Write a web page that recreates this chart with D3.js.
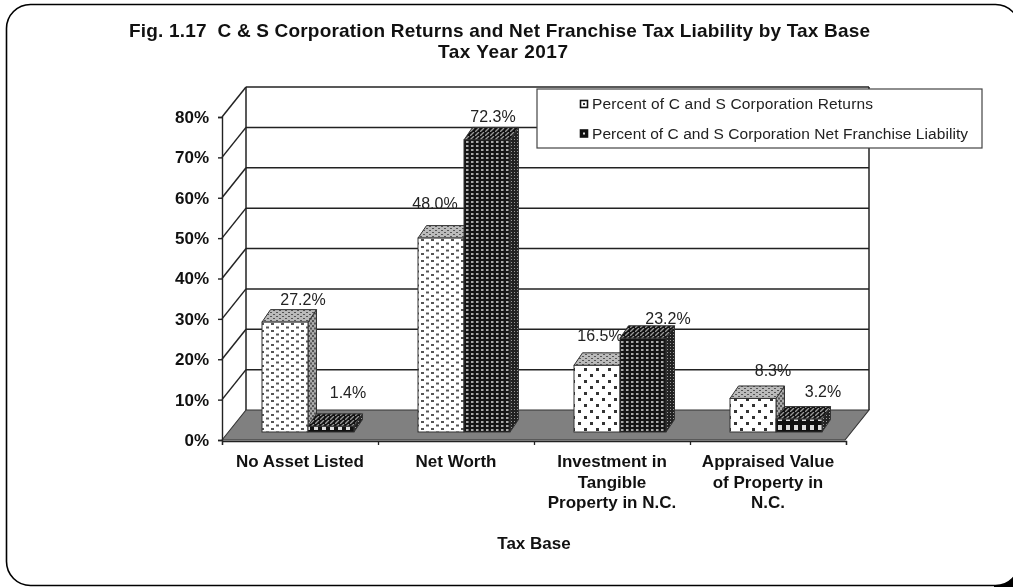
<!DOCTYPE html>
<html><head><meta charset="utf-8">
<script src="https://cdnjs.cloudflare.com/ajax/libs/d3/7.8.5/d3.min.js"></script>
<style>
html,body{margin:0;padding:0;background:#fff}
svg{display:block;font-family:"Liberation Sans",Arial,sans-serif;filter:blur(0.4px)}
</style></head><body><svg id="c" width="1013" height="587"></svg>
<script>
const titleLines = ["Fig. 1.17  C & S Corporation Returns and Net Franchise Tax Liability by Tax Base","Tax Year 2017"];
const categories = ["No Asset Listed","Net Worth","Investment in Tangible Property in N.C.","Appraised Value of Property in N.C."];
const categoryLines = [["No Asset Listed"],["Net Worth"],["Investment in","Tangible","Property in N.C."],["Appraised Value","of Property in","N.C."]];
const seriesNames = ["Percent of C and S Corporation Returns","Percent of C and S Corporation Net Franchise Liability"];
const returnsPct = [27.2,48.0,16.5,8.3];
const liabilityPct = [1.4,72.3,23.2,3.2];
const yTicks = [0,10,20,30,40,50,60,70,80];
const axisTitle = "Tax Base";
// hand-placed label nudges (dx,dy) relative to each bar's top centre
const returnsLabelNudge = [[18,-23],[-6,-35],[3,-30],[20,-28.5]];
const liabilityLabelNudge = [[17,-34],[6,-24],[25,-20],[24,-28]];

const svg = d3.select("#c");
const defs = svg.append("defs");
function pat(id,w,h,bg,draw){
  const p = defs.append("pattern").attr("id",id).attr("patternUnits","userSpaceOnUse").attr("width",w).attr("height",h);
  p.append("rect").attr("width",w).attr("height",h).attr("fill",bg);
  draw(p);
}
const sq=(p,x,y,w,h,c)=>p.append("rect").attr("x",x).attr("y",y).attr("width",w).attr("height",h).attr("fill",c);
pat("lightFine",10,7,"#fff",p=>{sq(p,1,1,3,2,"#555");sq(p,6,4.5,3,2,"#555");});
pat("lightCoarse",12,12,"#fff",p=>{sq(p,2,2,3,3,"#333");sq(p,8,8,3,3,"#333");});
pat("lightTop",6,4,"#bbb",p=>{sq(p,0,0,2,1,"#555");sq(p,3,2,2,1,"#555");});
pat("lightSide",4,5,"#aaa",p=>{sq(p,0,0,2,2,"#555");sq(p,2,2.5,2,2,"#555");});
pat("darkFine",5,4,"#151515",p=>{sq(p,1,1,2.5,2,"#aaa");});
pat("darkWide",8,9,"#111",p=>{sq(p,2,2,4,5,"#ddd");});
pat("darkTop",5,4,"#111",p=>{p.append("path").attr("d","M0 4L4 0").attr("stroke","#999").attr("stroke-width",1.3);});
pat("darkSide",3,3,"#222",p=>{sq(p,1,1,1,1,"#999");});

const n = categories.length;
const frontLeft=222, frontRight=846, depthX=24;
const x0 = d3.scaleBand().domain(categories).range([frontLeft,frontRight]);
const x1 = d3.scaleBand().domain([0,1]).range([40,132]);
const yMax = 80;
const yFront = d3.scaleLinear().domain([0,yMax]).range([440,117]);
const yWall  = d3.scaleLinear().domain([0,yMax]).range([410,87]);
const yBar   = d3.scaleLinear().domain([0,yMax]).range([432,108.8]);

// dark corner outside the frame, then the outer frame
svg.append("rect").attr("x",994).attr("y",562).attr("width",19).attr("height",25).attr("fill","#000");
svg.append("rect").attr("x",6.5).attr("y",4.5).attr("width",1013).attr("height",581).attr("rx",24)
  .attr("fill","#fff").attr("stroke","#000").attr("stroke-width",1.6);

// walls
const wall = svg.append("g").attr("stroke","#222").attr("stroke-width",1.5).attr("fill","none");
wall.selectAll("line.g").data(yTicks.slice(1)).join("line").attr("class","g")
  .attr("x1",frontLeft+depthX).attr("x2",frontRight+depthX-1).attr("y1",d=>yWall(d)).attr("y2",d=>yWall(d));
wall.selectAll("line.d").data(yTicks.slice(1)).join("line").attr("class","d")
  .attr("x1",frontLeft).attr("x2",frontLeft+depthX).attr("y1",d=>yFront(d)).attr("y2",d=>yWall(d));
wall.append("line").attr("x1",frontLeft+depthX).attr("x2",frontLeft+depthX).attr("y1",yWall(0)).attr("y2",yWall(yMax));
wall.append("line").attr("x1",frontRight+depthX-1).attr("x2",frontRight+depthX-1).attr("y1",yWall(0)).attr("y2",yWall(yMax));

// floor
svg.append("path").attr("fill","#808080").attr("stroke","#333").attr("stroke-width",1.1)
  .attr("d",d3.line()([[frontLeft,yFront(0)],[frontLeft+depthX,yWall(0)],[frontRight+depthX-1,yWall(0)],[frontRight-1,yFront(0)]])+"Z");

// axes
const axL = svg.append("g").attr("transform",`translate(${frontLeft},0)`)
  .call(d3.axisLeft(yFront).tickValues(yTicks).tickFormat(d=>d+"%").tickSize(4).tickPadding(9))
  .attr("font-family",null);
axL.selectAll("path,line").attr("stroke","#222").attr("stroke-width",1.4);
axL.selectAll("text").attr("font-size",17).attr("font-weight","bold").attr("fill","#111");
const axB = svg.append("g").attr("transform",`translate(0,${yFront(0)+1})`)
  .call(d3.axisBottom(d3.scaleLinear().domain([0,n]).range([frontLeft,frontRight])).ticks(n).tickFormat("").tickSize(4));
axB.selectAll("path,line").attr("stroke","#222").attr("stroke-width",1.3);

// bars
const depX=8.5, depY=12.5;
function bar(g,cat,j,v,front,top,side){
  const xl=x0(cat)+x1(j), w=x1.bandwidth(), yb=yBar(0), yt=yBar(v);
  const bg=g.append("g").attr("stroke","#333").attr("stroke-width",1);
  bg.append("path").attr("fill",`url(#${side})`).attr("d",d3.line()([[xl+w,yb],[xl+w+depX,yb-depY],[xl+w+depX,yt-depY],[xl+w,yt]])+"Z");
  bg.append("path").attr("fill",`url(#${top})`).attr("d",d3.line()([[xl,yt],[xl+depX,yt-depY],[xl+w+depX,yt-depY],[xl+w,yt]])+"Z");
  bg.append("rect").attr("x",xl).attr("y",yt).attr("width",w).attr("height",yb-yt).attr("fill",`url(#${front})`);
}
function lab(g,cat,j,v,nudge){
  g.append("text").attr("x",x0(cat)+x1(j)+x1.bandwidth()/2+nudge[0]).attr("y",yBar(v)+nudge[1])
   .attr("dy","0.35em").attr("text-anchor","middle").attr("font-size",16).attr("fill","#222").text(v.toFixed(1)+"%");
}
const bars = svg.append("g");
categories.forEach((c,i)=>{
  bar(bars,c,0,returnsPct[i],i<2?"lightFine":"lightCoarse","lightTop","lightSide");
  lab(bars,c,0,returnsPct[i],returnsLabelNudge[i]);
  bar(bars,c,1,liabilityPct[i],(i==0||i==3)?"darkWide":"darkFine","darkTop","darkSide");
  lab(bars,c,1,liabilityPct[i],liabilityLabelNudge[i]);
});

// category labels
categories.forEach((c,i)=>{
  const t=svg.append("text").attr("text-anchor","middle").attr("font-size",17).attr("font-weight","bold").attr("fill","#111");
  categoryLines[i].forEach((s,k)=>t.append("tspan").attr("x",x0(c)+x0.bandwidth()/2).attr("y",467+k*20.5).text(s));
});
svg.append("text").attr("x",534).attr("y",549).attr("text-anchor","middle").attr("font-size",17).attr("font-weight","bold").attr("fill","#111").text(axisTitle);

// title
const tt=[[499.5,37,741],[503,58,130]];
titleLines.forEach((s,i)=>svg.append("text").attr("x",tt[i][0]).attr("y",tt[i][1]).attr("text-anchor","middle")
  .attr("font-size",19).attr("font-weight","bold").attr("fill","#111").attr("textLength",tt[i][2]).attr("lengthAdjust","spacing").attr("xml:space","preserve").text(s));

// legend
const lg=svg.append("g");
lg.append("rect").attr("x",537).attr("y",89).attr("width",445).attr("height",59).attr("fill","#fff").attr("stroke","#444").attr("stroke-width",1.2);
const legendWidths=[281,376];
seriesNames.forEach((s,i)=>{
  const y=104+i*29.5;
  lg.append("rect").attr("x",580.5).attr("y",y-3.5).attr("width",7).attr("height",7).attr("fill",i?"#111":"#fff").attr("stroke","#111").attr("stroke-width",1.6);
  lg.append("rect").attr("x",583).attr("y",y-1).attr("width",2).attr("height",2).attr("fill",i?"#ddd":"#333");
  lg.append("text").attr("x",592).attr("y",y).attr("dy","0.35em").attr("font-size",15.5).attr("fill","#222")
    .attr("textLength",legendWidths[i]).attr("lengthAdjust","spacing").text(s);
});
</script></body></html>
